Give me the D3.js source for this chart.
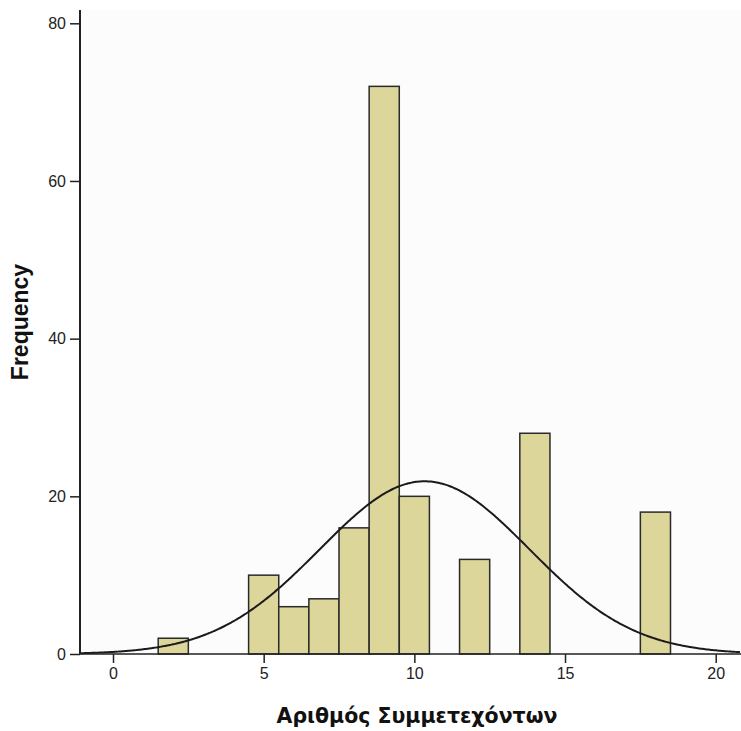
<!DOCTYPE html>
<html><head><meta charset="utf-8">
<script src="https://cdn.jsdelivr.net/npm/d3@7"></script>
<style>body{margin:0;background:#fff}svg{display:block}</style>
</head><body>
<svg id="c" width="741" height="731"></svg>
<script>
// Data
const categories = [2, 5, 6, 7, 8, 9, 10, 12, 14, 18];
const frequencies = [2, 10, 6, 7, 16, 72, 20, 12, 28, 18];
const xTicks = [0, 5, 10, 15, 20];
const yTicks = [0, 20, 40, 60, 80];
// normal-curve parameters of the fitted distribution
const fitMean = 10.34, fitSD = 3.478, fitN = 191, binWidth = 1;

const svg = d3.select("#c");
const x = d3.scaleLinear().domain([0, 20]).range([113, 715.7]);
const y = d3.scaleLinear().domain([0, 80]).range([654, 23.3]);
const xMin = x.invert(80), xMax = x.invert(741);

svg.append("rect").attr("x", 80).attr("y", 10).attr("width", 661).attr("height", 644).attr("fill", "#fcfcfc");

// bars
svg.append("g").selectAll("rect").data(categories).join("rect")
  .attr("x", d => x(d - binWidth / 2))
  .attr("width", d => x(d + binWidth / 2) - x(d - binWidth / 2))
  .attr("y", (d, i) => y(frequencies[i]))
  .attr("height", (d, i) => y(0) - y(frequencies[i]))
  .attr("fill", "#dcd69b").attr("stroke", "#2a2a2a").attr("stroke-width", 1.5);

// normal curve
const curvePts = d3.range(xMin, xMax + 0.01, 0.05).map(v => [v,
  fitN * binWidth / (fitSD * Math.sqrt(2 * Math.PI)) * Math.exp(-0.5 * ((v - fitMean) / fitSD) ** 2)]);
svg.append("path").datum(curvePts)
  .attr("d", d3.line().x(d => x(d[0])).y(d => y(d[1])).curve(d3.curveBasis))
  .attr("fill", "none").attr("stroke", "#1a1a1a").attr("stroke-width", 2);

// axes
const font = "'Liberation Sans', Arial, sans-serif";
const xa = svg.append("g").attr("transform", `translate(0,${y(0)})`)
  .call(d3.axisBottom(x).tickValues(xTicks).tickSize(9).tickPadding(5).tickFormat(d3.format("d")));
xa.select(".domain").remove();
xa.append("line").attr("x1", 80).attr("x2", 741).attr("stroke", "#222").attr("stroke-width", 1.5);
const ya = svg.append("g").attr("transform", `translate(80,0)`)
  .call(d3.axisLeft(y).tickValues(yTicks).tickSize(10).tickPadding(4).tickFormat(d3.format("d")));
ya.select(".domain").remove();
ya.append("line").attr("y1", 10).attr("y2", y(0)).attr("stroke", "#222").attr("stroke-width", 2);
svg.selectAll(".tick line").attr("stroke", "#222").attr("stroke-width", 1.5);
svg.selectAll(".tick text").attr("font-family", font).attr("font-size", 16).attr("fill", "#222");

const xl = svg.append("text").attr("x", 417).attr("y", 723).attr("text-anchor", "middle")
  .attr("font-family", "'DejaVu Sans', Verdana, sans-serif").attr("font-weight", "bold").attr("font-size", 18).attr("fill", "#111")
  .text("Αριθμός Συμμετεχόντων");
const w = xl.node().getComputedTextLength();
xl.attr("font-size", 18 * 281 / w);
svg.append("text").attr("transform", "translate(28,322) rotate(-90)").attr("text-anchor", "middle")
  .attr("font-family", font).attr("font-weight", "bold").attr("font-size", 23).attr("fill", "#111")
  .text("Frequency");
</script>
</body></html>
